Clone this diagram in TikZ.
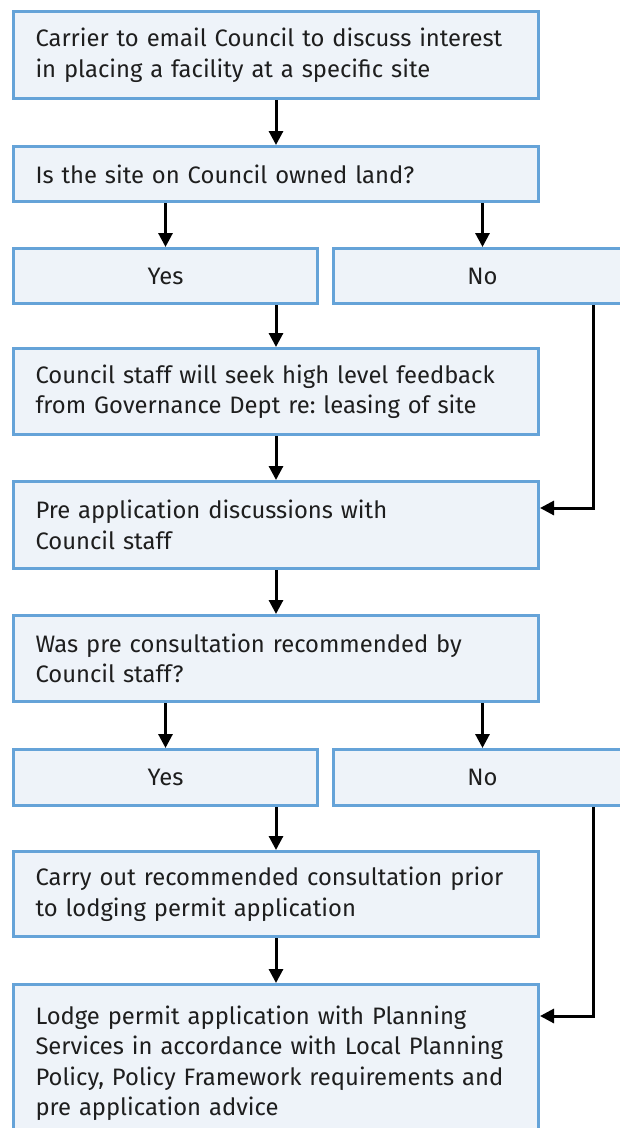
\documentclass[tikz,border=0pt]{standalone}
\usepackage{fontspec}
\setmainfont{Fira Sans}
\usetikzlibrary{arrows.meta,calc}
\definecolor{bordblue}{HTML}{65A3D8}
\definecolor{fillblue}{HTML}{EEF3F9}
\definecolor{txt}{HTML}{1E1E1E}
\frenchspacing
\begin{document}
\begin{tikzpicture}[x=1pt,y=-1pt,
  box/.style={draw=bordblue,fill=fillblue,line width=3pt,anchor=north west,
    inner xsep=22pt,inner ysep=0pt,align=left,text=txt,
    font=\fontsize{23.8}{30.5}\selectfont},
  wide/.style={box,minimum width=525pt,text width=481pt},
  choice/.style={box,align=center,inner xsep=0pt},
  arr/.style={line width=3pt,-{Triangle[length=14pt,width=14pt]}}]
\useasboundingbox (0,0) rectangle (620,1128);
\node[wide,minimum height=87pt] (b1) at (12,10) {Carrier to email Council to discuss interest\\in placing a facility at a specific site};
\node[wide,minimum height=55pt] (b2) at (12,145) {Is the site on Council owned land?};
\node[choice,minimum width=304pt,minimum height=55pt] (y1) at (12,247) {Yes};
\node[choice,minimum width=298pt,minimum height=55pt] (n1) at (332,247) {No};
\node[wide,minimum height=86pt] (b3) at (12,347) {Council staff will seek high level feedback\\from Governance Dept re: leasing of site};
\node[wide,minimum height=87pt] (b4) at (12,480) {Pre application discussions with\\Council staff};
\node[wide,minimum height=86pt] (b5) at (12,614) {Was pre consultation recommended by\\Council staff?};
\node[choice,minimum width=304pt,minimum height=56pt] (y2) at (12,748) {Yes};
\node[choice,minimum width=298pt,minimum height=56pt] (n2) at (332,748) {No};
\node[wide,minimum height=85pt] (b6) at (12,850) {Carry out recommended consultation prior\\to lodging permit application};
\node[wide,minimum height=157pt] (b7) at (12,983) {Lodge permit application with Planning\\Services in accordance with Local Planning\\Policy, Policy Framework requirements and\\pre application advice};
\coordinate (r1) at (593,508);
\coordinate (r2) at (593,1016);
\draw[arr] (b1.south) -- (b2.north);
\draw[arr] (b2.south -| y1.north) -- (y1.north);
\draw[arr] (b2.south -| n1.north) -- (n1.north);
\draw[arr] (y1.south -| b3.north) -- (b3.north);
\draw[arr] (b3.south) -- (b4.north);
\draw[arr] (n1.south -| r1) |- (b4.east |- r1);
\draw[arr] (b4.south) -- (b5.north);
\draw[arr] (b5.south -| y2.north) -- (y2.north);
\draw[arr] (b5.south -| n2.north) -- (n2.north);
\draw[arr] (y2.south -| b6.north) -- (b6.north);
\draw[arr] (b6.south) -- (b7.north);
\draw[arr] (n2.south -| r2) |- (b7.east |- r2);
\end{tikzpicture}
\end{document}
